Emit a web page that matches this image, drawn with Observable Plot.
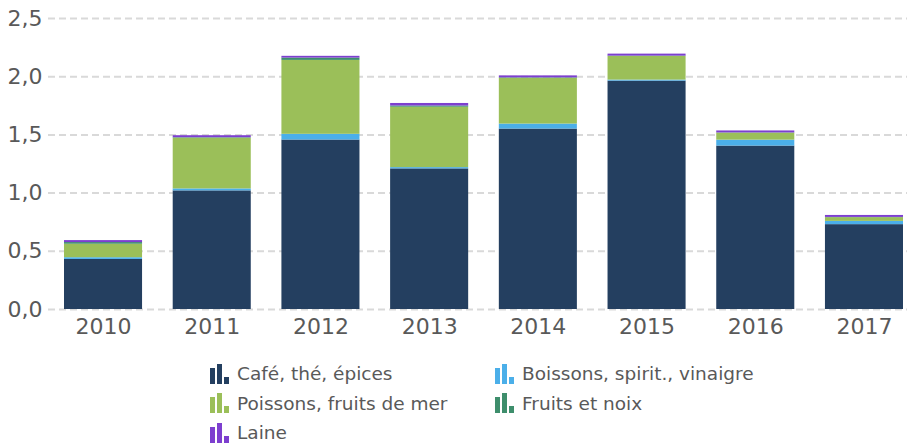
<!DOCTYPE html>
<html>
<head>
<meta charset="utf-8">
<script src="https://cdn.jsdelivr.net/npm/d3@7"></script>
<script src="https://cdn.jsdelivr.net/npm/@observablehq/plot@0.6"></script>
<style>
  body { margin: 0; background: #fff; font-family: "DejaVu Sans", Verdana, sans-serif; }
  #legend { display: grid; grid-template-columns: 285px auto; margin-left: 209px; padding-top: 14px; color: #595959; font-size: 18.5px; }
  .item { display: flex; align-items: center; height: 29.5px; white-space: nowrap; }
  .item svg { margin-right: 8px; }
</style>
</head>
<body>
<div id="chart"></div>
<div id="legend"></div>
<script>
const years = ["2010", "2011", "2012", "2013", "2014", "2015", "2016", "2017"];
const series = ["Café, thé, épices", "Boissons, spirit., vinaigre", "Poissons, fruits de mer", "Fruits et noix", "Laine"];
const colors = ["#243f60", "#4bafe9", "#9bbf59", "#3e8e6c", "#7d3fcf"];
const cafe     = [0.430, 1.019, 1.456, 1.208, 1.550, 1.962, 1.404, 0.729];
const boissons = [0.015, 0.017, 0.049, 0.011, 0.043, 0.009, 0.051, 0.028];
const poissons = [0.116, 0.436, 0.635, 0.519, 0.393, 0.203, 0.060, 0.032];
const fruits   = [0.014, 0.004, 0.020, 0.010, 0.004, 0.003, 0.002, 0.002];
const laine    = [0.017, 0.017, 0.015, 0.022, 0.017, 0.017, 0.017, 0.017];
const yTicks = [0, 0.5, 1.0, 1.5, 2.0, 2.5];

const valuesBySeries = [cafe, boissons, poissons, fruits, laine];
const data = [];
series.forEach((s, i) => years.forEach((y, j) => data.push({year: y, series: s, value: valuesBySeries[i][j]})));

const fmt = d => d3.format(".1f")(d).replace(".", ",");

const chart = Plot.plot({
  width: 907,
  height: 345,
  marginLeft: 48,
  marginRight: 0,
  marginTop: 18,
  marginBottom: 36,
  style: { fontFamily: "DejaVu Sans, Verdana, sans-serif", color: "#595959", background: "#fff" },
  x: { type: "band", domain: years, paddingInner: 0.282, paddingOuter: 0.092, align: 0.8, round: false },
  y: { domain: [0, 2.5] },
  color: { domain: series, range: colors },
  marks: [
    Plot.ruleY(yTicks, { stroke: "#d9d9d9", strokeWidth: 2, strokeDasharray: "7,4" }),
    Plot.barY(data, { x: "year", y: "value", fill: "series", order: series }),
    Plot.axisX({ tickSize: 0, tickPadding: 9, fontSize: 22, label: null }),
    Plot.axisY({ ticks: yTicks, tickFormat: fmt, tickSize: 0, tickPadding: 6, fontSize: 22, label: null })
  ]
});
document.getElementById("chart").appendChild(chart);

const legend = document.getElementById("legend");
series.forEach((s, i) => {
  const div = document.createElement("div");
  div.className = "item";
  div.innerHTML = `<svg width="20" height="20" viewBox="0 0 20 20">
    <rect x="1" y="4" width="5" height="16" fill="${colors[i]}"/>
    <rect x="8" y="0" width="5" height="20" fill="${colors[i]}"/>
    <rect x="15" y="13" width="5" height="7" fill="${colors[i]}"/>
  </svg><span>${s}</span>`;
  legend.appendChild(div);
});
</script>
</body>
</html>
